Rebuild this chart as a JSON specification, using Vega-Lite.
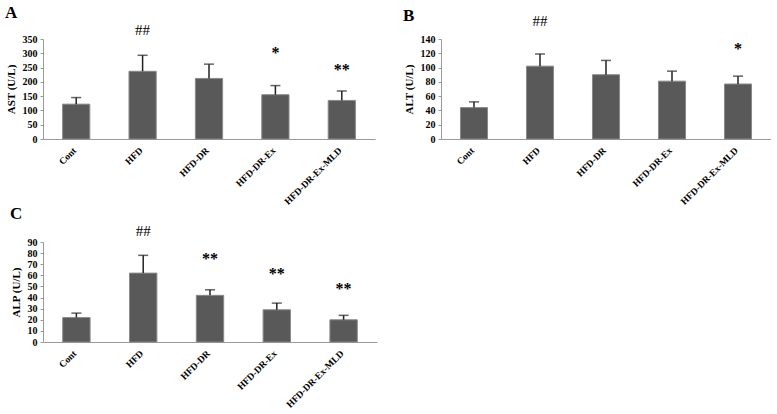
{
  "$schema": "https://vega.github.io/schema/vega-lite/v6.json",
  "background": "white",
  "padding": {"left": 5, "top": 4, "right": 0, "bottom": 0},
  "config": {
    "font": "Liberation Serif",
    "view": {"stroke": null},
    "axis": {"grid": false, "domainColor": "#9a9a9a", "tickColor": "#9a9a9a", "labelFont": "Liberation Serif", "titleFont": "Liberation Serif", "labelColor": "black", "titleColor": "black", "labelOverlap": false},
    "axisX": {"labelAngle": -45, "ticks": false, "labelFontSize": 9.5, "labelFontWeight": "bold", "labelPadding": 6, "labelOffset": -5, "title": null},
    "axisY": {"titleFontSize": 11, "titleFontWeight": "bold", "labelFontSize": 10, "labelFontWeight": "bold", "tickSize": 3, "labelPadding": 3, "titlePadding": 6},
    "title": {"font": "Liberation Serif", "fontSize": 17, "fontWeight": "bold", "anchor": "start", "frame": "bounds", "color": "black"}
  },
  "datasets": {
    "ast": [
      {"group": "Cont", "value": 122, "err": 145, "hash": "", "hashY": 0, "star": "", "starY": 0},
      {"group": "HFD", "value": 237, "err": 293, "hash": "##", "hashY": 382, "star": "", "starY": 0},
      {"group": "HFD-DR", "value": 212, "err": 262, "hash": "", "hashY": 0, "star": "", "starY": 0},
      {"group": "HFD-DR-Ex", "value": 155, "err": 187, "hash": "", "hashY": 0, "star": "*", "starY": 300},
      {"group": "HFD-DR-Ex-MLD", "value": 135, "err": 168, "hash": "", "hashY": 0, "star": "**", "starY": 240}
    ],
    "alt": [
      {"group": "Cont", "value": 44, "err": 52, "hash": "", "hashY": 0, "star": "", "starY": 0},
      {"group": "HFD", "value": 102, "err": 119, "hash": "##", "hashY": 165, "star": "", "starY": 0},
      {"group": "HFD-DR", "value": 90, "err": 110, "hash": "", "hashY": 0, "star": "", "starY": 0},
      {"group": "HFD-DR-Ex", "value": 81, "err": 95, "hash": "", "hashY": 0, "star": "", "starY": 0},
      {"group": "HFD-DR-Ex-MLD", "value": 77, "err": 88, "hash": "", "hashY": 0, "star": "*", "starY": 126}
    ],
    "alp": [
      {"group": "Cont", "value": 22, "err": 26, "hash": "", "hashY": 0, "star": "", "starY": 0},
      {"group": "HFD", "value": 62, "err": 78, "hash": "##", "hashY": 100, "star": "", "starY": 0},
      {"group": "HFD-DR", "value": 42, "err": 47, "hash": "", "hashY": 0, "star": "**", "starY": 75},
      {"group": "HFD-DR-Ex", "value": 29, "err": 35, "hash": "", "hashY": 0, "star": "**", "starY": 61},
      {"group": "HFD-DR-Ex-MLD", "value": 20, "err": 24, "hash": "", "hashY": 0, "star": "**", "starY": 48}
    ]
  },
  "columns": 2,
  "bounds": "flush",
  "spacing": {"row": 103, "column": 64},
  "concat": [
    {
      "title": {"text": "A", "offset": 0.5},
      "data": {"name": "ast"},
      "width": 332, "height": 100,
      "encoding": {
        "x": {"field": "group", "type": "nominal", "sort": null,
          "scale": {"paddingInner": 0.59, "paddingOuter": 0.295}}
      },
      "layer": [
        {"mark": {"type": "bar", "color": "#595959", "stroke": "#8a8a8a", "strokeWidth": 1},
          "encoding": {"y": {"field": "value", "type": "quantitative", "scale": {"domain": [0, 350]},
            "axis": {"values": [0,50,100,150,200,250,300,350], "labelOverlap": false, "title": "AST (U/L)"}}}},
        {"mark": {"type": "rule", "color": "#222", "strokeWidth": 1.5},
          "encoding": {"y": {"field": "value", "type": "quantitative",
            "axis": {"values": [0,50,100,150,200,250,300,350], "labelOverlap": false, "title": "AST (U/L)"}}, "y2": {"field": "err"}}},
        {"mark": {"type": "tick", "color": "#222", "thickness": 1.5, "size": 10, "orient": "horizontal"},
          "encoding": {"y": {"field": "err", "type": "quantitative",
            "axis": {"values": [0,50,100,150,200,250,300,350], "labelOverlap": false, "title": "AST (U/L)"}}}},
        {"mark": {"type": "text", "fontSize": 15, "baseline": "middle", "color": "black"},
          "encoding": {"y": {"field": "hashY", "type": "quantitative",
            "axis": {"values": [0,50,100,150,200,250,300,350], "labelOverlap": false, "title": "AST (U/L)"}}, "text": {"field": "hash"}}},
        {"mark": {"type": "text", "fontSize": 16, "fontWeight": "bold", "baseline": "middle", "color": "black"},
          "encoding": {"y": {"field": "starY", "type": "quantitative",
            "axis": {"values": [0,50,100,150,200,250,300,350], "labelOverlap": false, "title": "AST (U/L)"}}, "text": {"field": "star"}}}
      ]
    },
    {
      "title": {"text": "B", "offset": -10.5},
      "data": {"name": "alt"},
      "width": 330, "height": 100,
      "encoding": {
        "x": {"field": "group", "type": "nominal", "sort": null,
          "scale": {"paddingInner": 0.59, "paddingOuter": 0.295}}
      },
      "layer": [
        {"mark": {"type": "bar", "color": "#595959", "stroke": "#8a8a8a", "strokeWidth": 1},
          "encoding": {"y": {"field": "value", "type": "quantitative", "scale": {"domain": [0, 140]},
            "axis": {"values": [0,20,40,60,80,100,120,140], "labelOverlap": false, "title": "ALT (U/L)"}}}},
        {"mark": {"type": "rule", "color": "#222", "strokeWidth": 1.5},
          "encoding": {"y": {"field": "value", "type": "quantitative",
            "axis": {"values": [0,20,40,60,80,100,120,140], "labelOverlap": false, "title": "ALT (U/L)"}}, "y2": {"field": "err"}}},
        {"mark": {"type": "tick", "color": "#222", "thickness": 1.5, "size": 10, "orient": "horizontal"},
          "encoding": {"y": {"field": "err", "type": "quantitative",
            "axis": {"values": [0,20,40,60,80,100,120,140], "labelOverlap": false, "title": "ALT (U/L)"}}}},
        {"mark": {"type": "text", "fontSize": 15, "baseline": "middle", "color": "black"},
          "encoding": {"y": {"field": "hashY", "type": "quantitative",
            "axis": {"values": [0,20,40,60,80,100,120,140], "labelOverlap": false, "title": "ALT (U/L)"}}, "text": {"field": "hash"}}},
        {"mark": {"type": "text", "fontSize": 16, "fontWeight": "bold", "baseline": "middle", "color": "black"},
          "encoding": {"y": {"field": "starY", "type": "quantitative",
            "axis": {"values": [0,20,40,60,80,100,120,140], "labelOverlap": false, "title": "ALT (U/L)"}}, "text": {"field": "star"}}}
      ]
    },
    {
      "title": {"text": "C", "offset": 0.5},
      "data": {"name": "alp"},
      "width": 334, "height": 100,
      "encoding": {
        "x": {"field": "group", "type": "nominal", "sort": null,
          "scale": {"paddingInner": 0.59, "paddingOuter": 0.295}}
      },
      "layer": [
        {"mark": {"type": "bar", "color": "#595959", "stroke": "#8a8a8a", "strokeWidth": 1},
          "encoding": {"y": {"field": "value", "type": "quantitative", "scale": {"domain": [0, 90]},
            "axis": {"values": [0,10,20,30,40,50,60,70,80,90], "labelOverlap": false, "title": "ALP (U/L)"}}}},
        {"mark": {"type": "rule", "color": "#222", "strokeWidth": 1.5},
          "encoding": {"y": {"field": "value", "type": "quantitative",
            "axis": {"values": [0,10,20,30,40,50,60,70,80,90], "labelOverlap": false, "title": "ALP (U/L)"}}, "y2": {"field": "err"}}},
        {"mark": {"type": "tick", "color": "#222", "thickness": 1.5, "size": 10, "orient": "horizontal"},
          "encoding": {"y": {"field": "err", "type": "quantitative",
            "axis": {"values": [0,10,20,30,40,50,60,70,80,90], "labelOverlap": false, "title": "ALP (U/L)"}}}},
        {"mark": {"type": "text", "fontSize": 15, "baseline": "middle", "color": "black"},
          "encoding": {"y": {"field": "hashY", "type": "quantitative",
            "axis": {"values": [0,10,20,30,40,50,60,70,80,90], "labelOverlap": false, "title": "ALP (U/L)"}}, "text": {"field": "hash"}}},
        {"mark": {"type": "text", "fontSize": 16, "fontWeight": "bold", "baseline": "middle", "color": "black"},
          "encoding": {"y": {"field": "starY", "type": "quantitative",
            "axis": {"values": [0,10,20,30,40,50,60,70,80,90], "labelOverlap": false, "title": "ALP (U/L)"}}, "text": {"field": "star"}}}
      ]
    }
  ]
}
